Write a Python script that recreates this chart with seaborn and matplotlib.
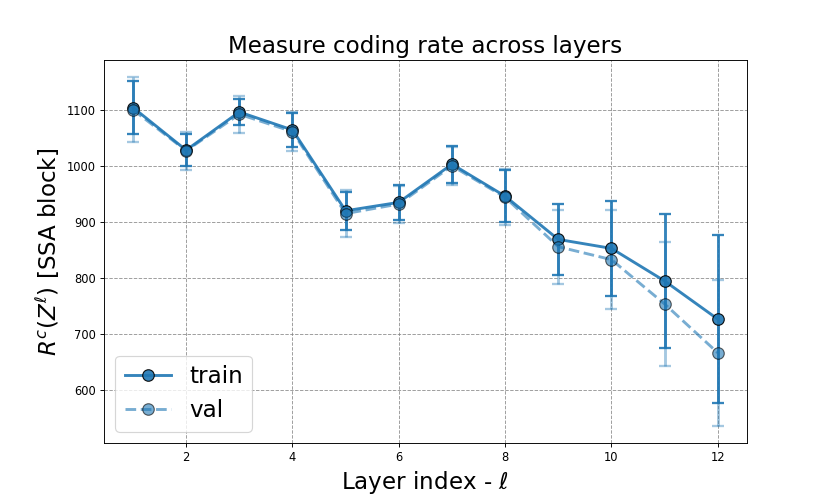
import numpy as np
import pandas as pd
import matplotlib
matplotlib.use("Agg")
import matplotlib.pyplot as plt
import seaborn as sns

# layer indices and coding rate per layer
layers = [1, 2, 3, 4, 5, 6, 7, 8, 9, 10, 11, 12]
train_mean = [1104, 1028, 1096, 1064, 920, 935, 1003, 946, 869, 853, 795, 727]
train_std = [47, 28, 24, 31, 34, 31, 33, 46, 63, 85, 120, 150]
val_mean = [1100, 1027, 1092, 1061, 915, 932, 1000, 944, 856, 833, 754, 667]
val_std = [58, 34, 33, 35, 42, 33, 34, 50, 66, 88, 110, 130]

df = pd.DataFrame({
    "layer": layers * 2,
    "rate": train_mean + val_mean,
    "split": ["train"] * len(layers) + ["val"] * len(layers),
})

plt.figure(figsize=(10, 6), dpi=83)
ax = plt.gca()

color = "#1f77b4"
ax.errorbar(layers, train_mean, yerr=train_std, fmt="none", ecolor=color,
            elinewidth=2.5, capsize=5, capthick=2, alpha=0.9)
ax.errorbar(layers, val_mean, yerr=val_std, fmt="none", ecolor=color,
            elinewidth=2.5, capsize=5, capthick=2, alpha=0.4)

sns.lineplot(data=df[df.split == "train"], x="layer", y="rate", color=color,
             linewidth=2.5, marker="o", markersize=10, markeredgecolor="black",
             markeredgewidth=1, alpha=0.9, label="train", ax=ax)
sns.lineplot(data=df[df.split == "val"], x="layer", y="rate", color=color,
             linewidth=2.5, linestyle="--", marker="o", markersize=10,
             markeredgecolor="black", markeredgewidth=1, alpha=0.6,
             label="val", ax=ax)

ax.set_title("Measure coding rate across layers", fontsize=20)
ax.set_xlabel(r"Layer index - $\ell$", fontsize=20)
ax.set_ylabel(r"$R^c(Z^\ell)$ [SSA block]", fontsize=20)
ax.grid(True, linestyle="--", color="gray", alpha=0.8)
ax.legend(loc="lower left", fontsize=20)

plt.savefig("out.png", dpi=83)
